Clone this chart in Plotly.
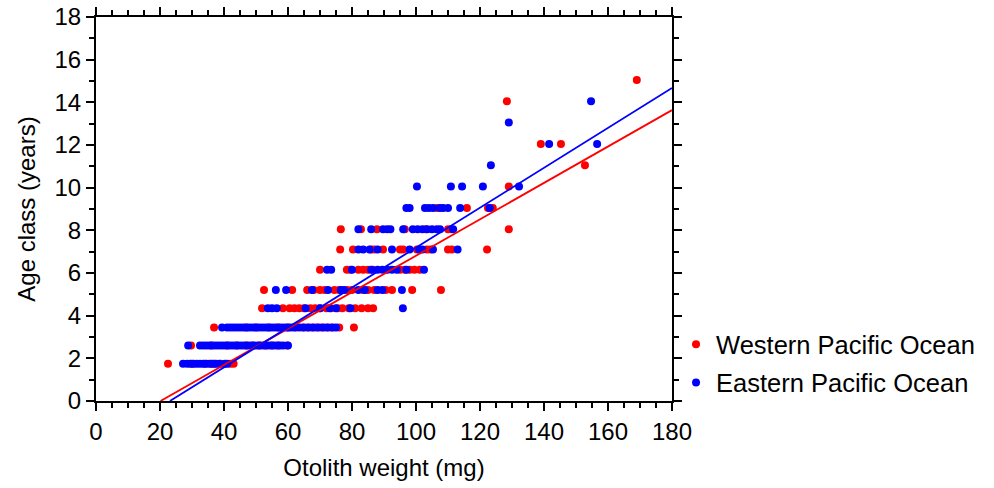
import plotly.graph_objects as go

# ---- data ----
west_x = [
    # age row ~1.75
    22.5, 30, 34, 36, 37, 39, 42, 43,
    # ~2.6
    29.7, 36, 41, 44, 47, 49, 51, 53, 55, 57, 59.7,
    # ~3.45
    36.9, 47, 50, 54, 57, 60, 62.5, 64.5, 66, 67.5, 69, 70.5, 72, 73.5, 76, 80.6,
    # ~4.35
    51.9, 58.4, 60.5, 62, 63.5, 65, 67, 68.5, 70, 72, 73.5, 75.5, 77, 79, 81, 83, 85, 86.6,
    # ~5.2
    52.5, 61.3, 66, 68, 70, 71.5, 74.5, 76, 78.5, 80, 83.5, 85, 87, 90.5, 92.5, 98.8, 107.8,
    # ~6.15
    70, 78.4, 79.5, 82, 83.5, 85, 86.5, 95, 96.5, 98, 99.5, 101.2,
    # ~7.1
    76.3, 80.3, 86, 87, 89.7, 95, 96, 100.3, 103.4, 104.5, 110, 111.2, 122.2,
    # ~8.05
    76.5, 82.8, 87.8, 96.5, 103, 110, 111, 129,
    # ~9.05
    106.5, 115.9, 122.5, 124,
    # ~10.05
    129,
    # ~11.05
    152.8,
    # ~12.05
    139, 145.3,
    # ~14.05
    128.4,
    # ~15.05
    169,
]
west_y = (
    [1.75] * 8 + [2.6] * 11 + [3.45] * 16 + [4.35] * 18 + [5.2] * 17
    + [6.15] * 12 + [7.1] * 13 + [8.05] * 8 + [9.05] * 4 + [10.05] * 1
    + [11.05] * 1 + [12.05] * 2 + [14.05] * 1 + [15.05] * 1
)

east_x = [
    # ~1.75
    27.2, 28.5, 29.5, 30.5, 31.5, 32.5, 33.5, 34.5, 35.5, 36.5, 37.5, 38.5, 40.3, 41,
    # ~2.6
    28.8, 32.5, 33.5, 34.5, 35.5, 36.5, 37.5, 38.5, 39.5, 40.5, 41.5, 42.5, 43.5, 44.5,
    45.5, 46.5, 47.5, 48.5, 49.5, 50.5, 51.5, 52.5, 53.5, 54.5, 55.5, 56.5, 57.5, 58.5, 60,
    # ~3.45
    39.4, 41, 42, 43, 44, 45, 46, 47, 48, 49, 50, 51, 52, 53, 54, 55, 56, 57, 58, 59,
    60, 61, 62, 63.5, 65, 66.5, 68, 69.5, 71, 72.5, 74, 75,
    # ~4.35
    53.7, 55, 56.5, 65.5, 70, 73, 75, 79.5, 95.9,
    # ~5.2
    56.2, 59.4, 67.5, 72.5, 76.5, 77.5, 82, 84, 88, 89.5, 95.6,
    # ~6.15
    72.2, 73.5, 80, 86, 88, 89.5, 91, 92.5, 94, 97, 102.5,
    # ~7.1
    82, 83.5, 85.5, 88, 92.5, 98, 101, 102, 105.3, 113,
    # ~8.05
    82, 86, 89.7, 91, 92, 96, 99, 100.5, 102, 103.5, 105, 106.5, 107.5, 111.6,
    # ~9.05
    97, 98, 102.8, 104, 105.3, 107.5, 108.5, 110, 113.8, 123,
    # ~10.05
    100.3, 110.9, 114.4, 120.9, 132.2,
    # ~11.05
    123.4,
    # ~12.05
    141.6, 156.6,
    # ~13.05
    129,
    # ~14.05
    154.7,
]
east_y = (
    [1.75] * 14 + [2.6] * 29 + [3.45] * 32 + [4.35] * 9 + [5.2] * 11
    + [6.15] * 11 + [7.1] * 10 + [8.05] * 14 + [9.05] * 10 + [10.05] * 5
    + [11.05] * 1 + [12.05] * 2 + [13.05] * 1 + [14.05] * 1
)

# regression lines (slope, intercept)
west_fit = (0.0853, -1.72)
east_fit = (0.0935, -2.16)
x_max = 180

def fit_line(fit):
    s, b = fit
    x0 = -b / s
    return [x0, x_max], [s * x0 + b, s * x_max + b]

RED = "rgb(255,0,0)"
BLUE = "rgb(0,0,255)"
FONT = "Liberation Sans, Arial, sans-serif"

fig = go.Figure()
fig.add_trace(go.Scatter(x=west_x, y=west_y, mode="markers", name="Western Pacific Ocean",
                         marker=dict(color=RED, size=8, line=dict(width=0)), legendgroup="w"))
fig.add_trace(go.Scatter(x=east_x, y=east_y, mode="markers", name="Eastern Pacific Ocean",
                         marker=dict(color=BLUE, size=8, line=dict(width=0)), legendgroup="e"))
lx, ly = fit_line(west_fit)
fig.add_trace(go.Scatter(x=lx, y=ly, mode="lines", line=dict(color=RED, width=1.8), showlegend=False))
lx, ly = fit_line(east_fit)
fig.add_trace(go.Scatter(x=lx, y=ly, mode="lines", line=dict(color=BLUE, width=1.8), showlegend=False))

axis_common = dict(
    showgrid=False, zeroline=False, showline=True, linecolor="black", linewidth=2,
    mirror="ticks", ticks="outside", ticklen=8, tickwidth=2, tickcolor="black",
    tickfont=dict(size=24, color="black", family=FONT), automargin=False,
    ticklabeloverflow="allow",
)
fig.update_xaxes(**axis_common, range=[0, 180], dtick=20,
                 minor=dict(dtick=5, ticks="outside", ticklen=5, tickwidth=1.5, tickcolor="black"),
                 title=dict(text="Otolith weight (mg)", font=dict(size=24, color="black", family=FONT), standoff=15))
fig.update_yaxes(**axis_common, range=[0, 18], dtick=2,
                 minor=dict(dtick=1, ticks="outside", ticklen=5, tickwidth=1.5, tickcolor="black"),
                 title=dict(text="Age class (years)", font=dict(size=24, color="black", family=FONT), standoff=12))

fig.update_layout(
    width=994, height=488,
    margin=dict(l=96, r=322, t=17, b=87),
    plot_bgcolor="white", paper_bgcolor="white",
    font=dict(family=FONT, color="black"),
    legend=dict(x=1.007, y=0.097, xanchor="left", yanchor="middle",
                font=dict(size=25.5, color="black", family=FONT),
                tracegroupgap=2, traceorder="grouped", bgcolor="rgba(0,0,0,0)"),
)

fig.write_html("out.html", config={"displayModeBar": False},
               post_script="document.body.style.margin='0px';")
